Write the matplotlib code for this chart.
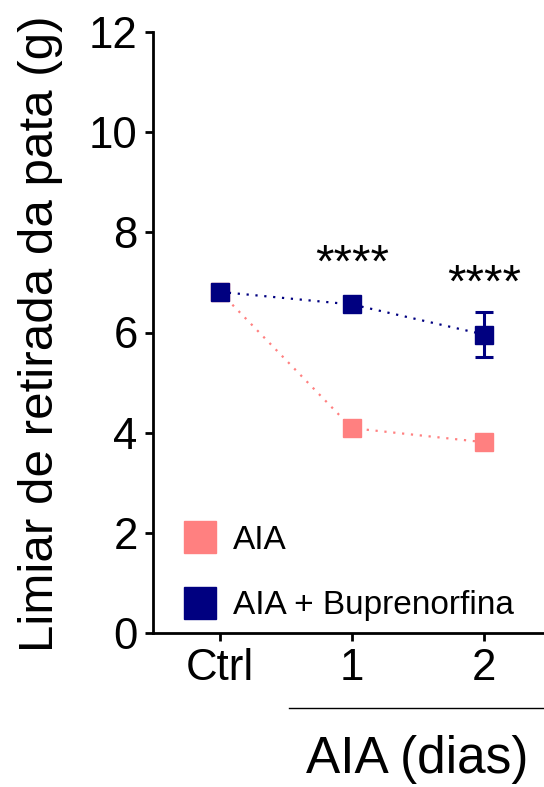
import matplotlib
matplotlib.use("Agg")
import matplotlib.pyplot as plt
from matplotlib.lines import Line2D

plt.rcParams['font.family'] = ['Liberation Sans', 'DejaVu Sans']

# ---- data ----
categories = ["Ctrl", "1", "2"]
aia = [6.81, 4.09, 3.81]
aia_err = [0.0, 0.0, 0.0]
bup = [6.81, 6.56, 5.96]
bup_err = [0.0, 0.0, 0.45]
stars = ["", "****", "****"]
stars_y = [None, 7.11, 6.71]
yticks = [0, 2, 4, 6, 8, 10, 12]
series_labels = ["AIA", "AIA + Buprenorfina"]
ylabel = "Limiar de retirada da pata (g)"
xgroup_label = "AIA (dias)"

pink = "#FF8080"
navy = "#000080"

W, H = 544, 787
fig = plt.figure(figsize=(W / 100, H / 100), dpi=100)
ax = fig.add_axes([153 / W, 1 - 633 / H, (W - 153) / W, (633 - 32) / H])

x = list(range(len(categories)))
dots = (0, (1, 3))
ax.errorbar(x, aia, yerr=aia_err, color=pink, marker='s', ms=13.5, mec=pink,
            ls=dots, lw=1.6, elinewidth=2, capsize=6.5, capthick=2, zorder=3)
ax.errorbar(x, bup, yerr=bup_err, color=navy, marker='s', ms=13.5, mec=navy,
            ls=dots, lw=1.6, elinewidth=2.2, capsize=6.5, capthick=2.2, zorder=4)

for xi, s, sy in zip(x, stars, stars_y):
    if s:
        ax.text(xi, sy, s, ha='center', va='baseline', fontsize=34, color='black')

ax.set_ylim(0, 12)
ax.set_yticks(yticks)
ax.set_xlim(-0.5076, 2.4545)
ax.set_xticks(x)
ax.set_xticklabels(categories)

for sp in ['top', 'right']:
    ax.spines[sp].set_visible(False)
for sp in ['left', 'bottom']:
    ax.spines[sp].set_linewidth(2)
ax.tick_params(axis='both', width=2, length=6, labelsize=31.5, pad=5)

fig.text(41 / W, 1 - 334 / H, ylabel, rotation=90, ha='center', va='center',
         fontsize=35.5)

# group bracket line for AIA days
fig.add_artist(Line2D([289 / W, 1.0], [1 - 708 / H, 1 - 708 / H],
                      color='black', lw=1.0))
fig.text(417 / W, 1 - 760 / H, xgroup_label, ha='center', va='center',
         fontsize=37)

handles = [Line2D([], [], color=pink, marker='s', ls='none', ms=22.5, mec=pink),
           Line2D([], [], color=navy, marker='s', ls='none', ms=22.5, mec=navy)]
ax.legend(handles, series_labels, loc='upper left',
          bbox_to_anchor=(183 / W, 1 - 525 / H), bbox_transform=fig.transFigure,
          frameon=False, fontsize=24, handlelength=1.0, handletextpad=0.5,
          labelspacing=1.03, borderpad=0, borderaxespad=0)

fig.savefig("out.png", dpi=100)
